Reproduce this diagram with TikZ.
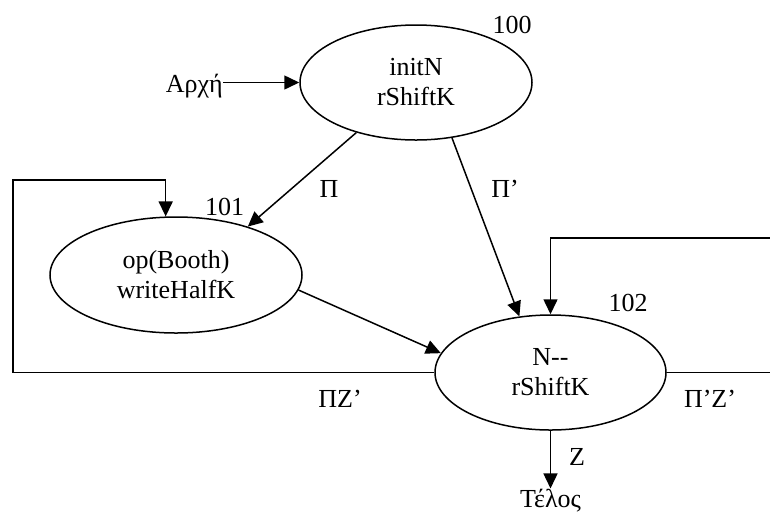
\documentclass[tikz,border=0pt]{standalone}
\usepackage{fontspec}
\setmainfont{Liberation Serif}
\usetikzlibrary{arrows.meta,shapes.geometric}

\begin{document}
\begin{tikzpicture}[x=1pt,y=-1pt,
  txt/.style={font=\fontsize{26}{30}\selectfont},
  state/.style={txt,ellipse,draw,line width=1.5pt,inner sep=0pt,align=center},
  lbl/.style={txt,inner sep=0pt,anchor=base},
  edge/.style={line width=1.5pt},
  arr/.style={edge,-{Triangle[length=15pt,width=14pt]}}]
\useasboundingbox (0,0) rectangle (770,515);

% states
\node[state,minimum width=232pt,minimum height=115pt] (init)  at (416,82.5)  {initN\\rShiftK};
\node[state,minimum width=252pt,minimum height=116pt] (booth) at (176,275)   {op(Booth)\\writeHalfK};
\node[state,minimum width=231pt,minimum height=115pt] (dec)   at (550.5,372.5) {N-{}-\\rShiftK};

% state numbers
\node[lbl] (n100) at (512,33)  {100};
\node[lbl] (n101) at (224.5,215) {101};
\node[lbl] (n102) at (628,311) {102};

% start and end
\node[lbl,anchor=base east] (start) at (223,92) {Αρχή};
\node[lbl] (stop) at (550.5,507) {Τέλος};
\draw[arr] (start.east |- init.west) -- (init.west);
\draw[arr] (dec.south) -- (stop.north);
\node[lbl] (lz) at (577,465) {Z};

% transitions
\draw[arr] (init.220) -- (booth.34);
\node[lbl] (lp) at (329,197) {Π};
\draw[arr] (init.-57) -- (dec.119);
\node[lbl] (lpp) at (505,197) {Π’};
\draw[arr] (booth.-7) -- (dec.170);

% loop back to 101
\coordinate (lc) at (13,180);
\draw[arr] (dec.west) -- (dec.west -| lc) |- (booth.100 |- lc) -- (booth.100);
\node[lbl] (lpz) at (340,407) {ΠZ’};

% loop back to 102
\coordinate (rc) at (772,238);
\draw[edge] (dec.east) -- (dec.east -| rc);
\draw[arr] (rc) -| (dec.north);
\node[lbl] (lppz) at (710,407) {Π’Z’};
\end{tikzpicture}
\end{document}
